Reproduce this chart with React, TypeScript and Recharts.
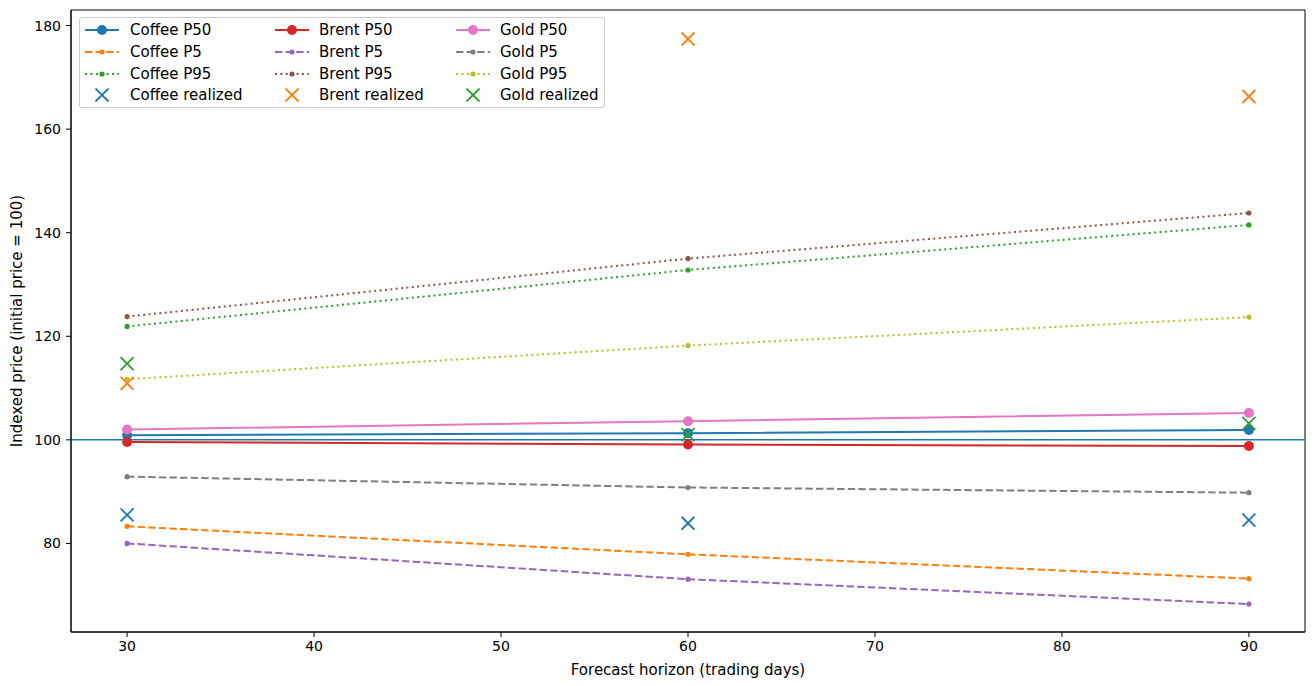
import { ComposedChart, Line, Scatter, XAxis, YAxis, ReferenceLine, ReferenceArea } from 'recharts'

// forecast horizons (trading days)
const horizons = [30, 60, 90]

const coffeeP50 = [100.9, 101.3, 101.9]
const coffeeP5 = [83.3, 77.9, 73.2]
const coffeeP95 = [121.9, 132.8, 141.5]
const coffeeRealized = [85.5, 83.9, 84.5]

const brentP50 = [99.6, 99.1, 98.8]
const brentP5 = [80.0, 73.1, 68.3]
const brentP95 = [123.8, 135.0, 143.8]
const brentRealized = [110.9, 177.4, 166.3]

const goldP50 = [102.0, 103.6, 105.2]
const goldP5 = [92.9, 90.8, 89.8]
const goldP95 = [111.7, 118.2, 123.7]
const goldRealized = [114.7, 101.0, 103.2]

const xTicks = [30, 40, 50, 60, 70, 80, 90]
const yTicks = [80, 100, 120, 140, 160, 180]

const FONT = '"DejaVu Sans", sans-serif'
const X_MIN = 27
const X_MAX = 93
const Y_MIN = 62.9
const Y_MAX = 183

type Kind = 'p50' | 'p5' | 'p95' | 'realized'

interface Series {
  key: string
  name: string
  color: string
  kind: Kind
  values: number[]
}

const series: Series[] = [
  { key: 'coffeeP50', name: 'Coffee P50', color: '#1f77b4', kind: 'p50', values: coffeeP50 },
  { key: 'coffeeP5', name: 'Coffee P5', color: '#ff7f0e', kind: 'p5', values: coffeeP5 },
  { key: 'coffeeP95', name: 'Coffee P95', color: '#2ca02c', kind: 'p95', values: coffeeP95 },
  { key: 'coffeeRealized', name: 'Coffee realized', color: '#1f77b4', kind: 'realized', values: coffeeRealized },
  { key: 'brentP50', name: 'Brent P50', color: '#d62728', kind: 'p50', values: brentP50 },
  { key: 'brentP5', name: 'Brent P5', color: '#9467bd', kind: 'p5', values: brentP5 },
  { key: 'brentP95', name: 'Brent P95', color: '#8c564b', kind: 'p95', values: brentP95 },
  { key: 'brentRealized', name: 'Brent realized', color: '#ff7f0e', kind: 'realized', values: brentRealized },
  { key: 'goldP50', name: 'Gold P50', color: '#e377c2', kind: 'p50', values: goldP50 },
  { key: 'goldP5', name: 'Gold P5', color: '#7f7f7f', kind: 'p5', values: goldP5 },
  { key: 'goldP95', name: 'Gold P95', color: '#bcbd22', kind: 'p95', values: goldP95 },
  { key: 'goldRealized', name: 'Gold realized', color: '#2ca02c', kind: 'realized', values: goldRealized },
]

const data = horizons.map((h, i) => {
  const row: Record<string, number> = { h }
  series.forEach((s) => {
    row[s.key] = s.values[i]
  })
  return row
})

const dashFor = (kind: Kind) =>
  kind === 'p5' ? '7.4 3.2' : kind === 'p95' ? '2 3.4' : undefined

function XMark(props: { cx?: number; cy?: number; fill?: string }) {
  const { cx = 0, cy = 0, fill } = props
  const d = 6.5
  return (
    <g stroke={fill} strokeWidth={1.8}>
      <line x1={cx - d} y1={cy - d} x2={cx + d} y2={cy + d} />
      <line x1={cx - d} y1={cy + d} x2={cx + d} y2={cy - d} />
    </g>
  )
}

function Handle({ s }: { s: Series }) {
  return (
    <svg width={34} height={14} style={{ display: 'block' }}>
      {s.kind === 'realized' ? (
        <XMark cx={17} cy={7} fill={s.color} />
      ) : (
        <>
          <line
            x1={0}
            y1={7}
            x2={34}
            y2={7}
            stroke={s.color}
            strokeWidth={2}
            strokeDasharray={dashFor(s.kind)}
          />
          <circle cx={17} cy={7} r={s.kind === 'p50' ? 5 : 2.6} fill={s.color} />
        </>
      )}
    </svg>
  )
}

// columns: handle x and text x, relative to the page
const legendCols = [
  { handle: 84, text: 129 },
  { handle: 274, text: 318 },
  { handle: 455, text: 499 },
]
const rowY = [29, 51, 73, 94]

function LegendBox() {
  return (
    <div
      style={{
        position: 'absolute',
        left: 79,
        top: 17,
        width: 526,
        height: 91,
        border: '1px solid #cccccc',
        borderRadius: 3,
        background: 'rgba(255,255,255,0.8)',
        boxSizing: 'border-box',
        fontFamily: FONT,
        fontSize: 15,
        color: '#000',
      }}
    >
      {series.map((s, i) => {
        const col = legendCols[Math.floor(i / 4)]
        const y = rowY[i % 4]
        return (
          <div key={s.key}>
            <div style={{ position: 'absolute', left: col.handle - 79, top: y - 17 - 7 }}>
              <Handle s={s} />
            </div>
            <div
              style={{
                position: 'absolute',
                left: col.text - 79,
                top: y - 17 - 9,
                lineHeight: '18px',
                whiteSpace: 'nowrap',
              }}
            >
              {s.name}
            </div>
          </div>
        )
      })}
    </div>
  )
}

const tickStyle = { fill: '#000', fontSize: 14, fontFamily: FONT }

export default function App() {
  return (
    <div style={{ position: 'absolute', left: 0, top: 0, width: 1315, height: 686, background: '#fff' }}>
      <ComposedChart
        width={1315}
        height={686}
        data={data}
        margin={{ top: 10, right: 10, left: 11, bottom: 0 }}
      >
        <XAxis
          dataKey="h"
          type="number"
          domain={[X_MIN, X_MAX]}
          ticks={xTicks}
          allowDataOverflow
          height={54}
          tick={tickStyle}
          tickSize={5}
          tickMargin={4}
          axisLine={{ stroke: '#000' }}
          tickLine={{ stroke: '#000' }}
          label={{
            value: 'Forecast horizon (trading days)',
            position: 'insideBottom',
            offset: 11,
            style: { fill: '#000', fontSize: 15, fontFamily: FONT },
          }}
        />
        <YAxis
          type="number"
          domain={[Y_MIN, Y_MAX]}
          ticks={yTicks}
          allowDataOverflow
          width={60}
          tick={tickStyle}
          tickSize={5}
          tickMargin={5}
          axisLine={{ stroke: '#000' }}
          tickLine={{ stroke: '#000' }}
          label={{
            value: 'Indexed price (initial price = 100)',
            angle: -90,
            position: 'insideLeft',
            offset: 6,
            style: { fill: '#000', fontSize: 15, fontFamily: FONT, textAnchor: 'middle' },
          }}
        />
        <ReferenceArea
          x1={X_MIN}
          x2={X_MAX}
          y1={Y_MIN}
          y2={Y_MAX}
          fill="none"
          fillOpacity={0}
          stroke="#000"
          strokeWidth={1}
        />
        <ReferenceLine y={100} stroke="#1f77b4" strokeWidth={1.5} />
        {series.map((s) =>
          s.kind === 'realized' ? (
            <Scatter
              key={s.key}
              name={s.name}
              dataKey={s.key}
              fill={s.color}
              shape={<XMark />}
              isAnimationActive={false}
            />
          ) : (
            <Line
              key={s.key}
              name={s.name}
              dataKey={s.key}
              stroke={s.color}
              strokeWidth={2}
              strokeDasharray={dashFor(s.kind)}
              dot={{
                r: s.kind === 'p50' ? 5 : 2.6,
                fill: s.color,
                stroke: 'none',
                strokeDasharray: undefined,
              }}
              activeDot={false}
              type="linear"
              isAnimationActive={false}
            />
          )
        )}
      </ComposedChart>
      <LegendBox />
    </div>
  )
}
